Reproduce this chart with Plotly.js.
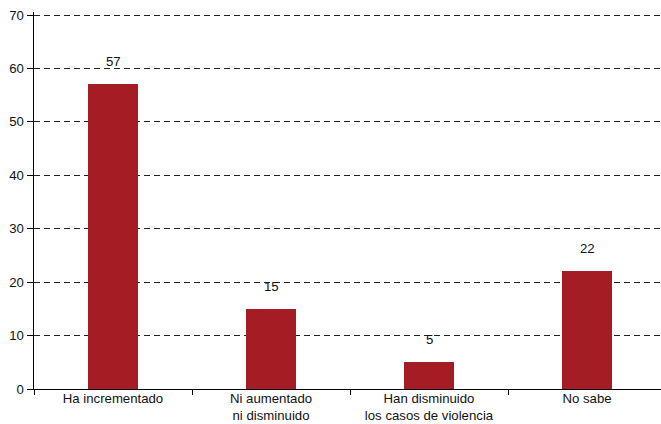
<!DOCTYPE html>
<html>
<head>
<meta charset="utf-8">
<script src="https://cdn.plot.ly/plotly-3.0.1.min.js"></script>
<style>html,body{margin:0;padding:0;background:#fff;}#chart{width:661px;height:424px;}</style>
</head>
<body>
<div id="chart"></div>
<script>
const categories = ["Ha incrementado", "Ni aumentado<br>ni disminuido", "Han disminuido<br>los casos de violencia", "No sabe"];
const values = [57, 15, 5, 22];
const yTicks = [0, 10, 20, 30, 40, 50, 60, 70];

const barColor = "#A51D24";
const font = {family: "Liberation Sans, Arial, Helvetica, sans-serif", size: 13.2, color: "#111"};

const trace = {
  type: "bar",
  x: categories,
  y: values,
  marker: {color: barColor},
  width: 0.316,
  hoverinfo: "none"
};

const annotations = categories.map((c, i) => ({
  x: c, y: values[i], text: String(values[i]),
  xref: "x", yref: "y", showarrow: false,
  yanchor: "bottom", yshift: 13,
  font: font
}));

const layout = {
  width: 661, height: 424,
  margin: {l: 34, r: 0, t: 12, b: 35, pad: 0},
  paper_bgcolor: "#fff", plot_bgcolor: "#fff",
  showlegend: false,
  font: font,
  bargap: 0,
  xaxis: {
    type: "category",
    range: [-0.5, -0.5 + 627 / 158],
    showline: true, linecolor: "#000", linewidth: 1.2,
    ticks: "outside", tickson: "boundaries", ticklen: 5, tickcolor: "#000", tickwidth: 1,
    ticklabelstandoff: -3,
    showgrid: false, zeroline: false,
    tickfont: font, automargin: false
  },
  yaxis: {
    range: [0, 70 + 3 * 70 / 374],
    tickvals: yTicks,
    showline: true, linecolor: "#000", linewidth: 1.5,
    ticks: "outside", ticklen: 6, tickcolor: "#000", tickwidth: 1,
    showgrid: true, gridcolor: "#222", griddash: "6px,4px", gridwidth: 1,
    zeroline: false,
    tickfont: font, automargin: false
  },
  annotations: annotations
};

Plotly.newPlot("chart", [trace], layout, {staticPlot: true, displayModeBar: false});
</script>
</body>
</html>
